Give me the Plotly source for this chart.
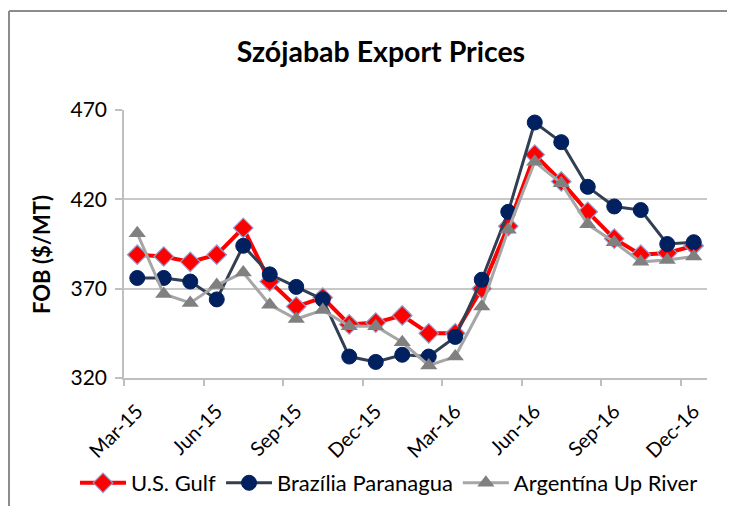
import plotly.graph_objects as go

months = ["Mar-15", "Apr-15", "May-15", "Jun-15", "Jul-15", "Aug-15", "Sep-15", "Oct-15",
          "Nov-15", "Dec-15", "Jan-16", "Feb-16", "Mar-16", "Apr-16", "May-16", "Jun-16",
          "Jul-16", "Aug-16", "Sep-16", "Oct-16", "Nov-16", "Dec-16"]
us_gulf = [389, 388, 385, 389, 404, 374, 360, 365, 350, 351, 355, 345,
           345, 370, 405, 445, 430, 413, 398, 389, 390, 394]
brazil = [376, 376, 374, 364, 394, 378, 371, 364, 332, 329, 333, 332,
          343, 375, 413, 463, 452, 427, 416, 414, 395, 396]
argentina = [401, 367, 362, 372, 379, 361, 353, 358, 349, 349, 340, 327,
             332, 360, 403, 441, 429, 406, 396, 385, 386, 388]
series_names = ["U.S. Gulf", "Brazília Paranagua", "Argentína Up River"]
y_ticks = [320, 370, 420, 470]

FONT = "Lato, 'Open Sans', sans-serif"
OFF = 8                  # page body margin
W, H = 735 - 2 * OFF, 514 - 2 * OFF
L, T = 124 - OFF, 110 - OFF
R = W - (707 - OFF)
B = H - (378 - OFF)
PW, PH = W - L - R, H - T - B

xs = list(range(len(months)))
label_idx = xs[::3]


def px_x(px):
    return (px - OFF - L) / PW


def px_y(py):
    return (H - B - (py - OFF)) / PH


fig = go.Figure()
fig.add_trace(go.Scatter(
    x=xs, y=us_gulf, name=series_names[0], mode="lines+markers",
    line=dict(color="#FF0000", width=4),
    marker=dict(symbol="diamond", size=15, color="#FF0000",
                line=dict(color="#8E9FD0", width=1.2))))
fig.add_trace(go.Scatter(
    x=xs, y=brazil, name=series_names[1], mode="lines+markers",
    line=dict(color="#323E52", width=3),
    marker=dict(symbol="circle", size=15, color="#002060",
                line=dict(color="#002060", width=1))))
fig.add_trace(go.Scatter(
    x=xs, y=argentina, name=series_names[2], mode="lines+markers",
    line=dict(color="#A6A6A6", width=3),
    marker=dict(symbol="triangle-up", size=15, color="#808080",
                line=dict(color="#808080", width=0))))

fig.update_layout(
    width=W, height=H,
    margin=dict(l=L, r=R, t=T, b=B, autoexpand=False),
    paper_bgcolor="white", plot_bgcolor="white",
    font=dict(family=FONT, size=20, color="black"),
    title=dict(text="<b>Szójabab Export Prices</b>", font=dict(family=FONT, size=28.5, color="black"),
               xref="container", x=(381 - OFF) / W, xanchor="center",
               yref="container", y=1 - (52 - OFF) / H, yanchor="middle"),
    showlegend=True,
    legend=dict(orientation="h", xref="paper", x=px_x(75), xanchor="left",
                yref="paper", y=px_y(483), yanchor="middle",
                font=dict(family=FONT, size=22, color="black"),
                itemwidth=46, tracegroupgap=0, borderwidth=0,
                bgcolor="rgba(0,0,0,0)"),
    xaxis=dict(range=[-0.5, len(months) - 0.5], tickmode="array",
               tickvals=label_idx, ticktext=[months[i] for i in label_idx],
               tickangle=-45, ticks="", showgrid=False, zeroline=False,
               ticklabelstandoff=12,
               showline=True, linecolor="#BFBFBF", linewidth=1.5,
               tickfont=dict(family=FONT, size=20, color="black"),
               minor=dict(tickmode="linear", tick0=-0.5, dtick=3, ticks="outside",
                          ticklen=6, tickcolor="#BFBFBF", tickwidth=1.5, showgrid=False)),
    yaxis=dict(range=[y_ticks[0], y_ticks[-1]], tickmode="array", tickvals=y_ticks,
               ticks="outside", ticklen=7, tickcolor="#BFBFBF", tickwidth=1.5,
               ticklabelstandoff=4,
               showline=True, linecolor="#BFBFBF", linewidth=1.5,
               showgrid=True, gridcolor="#C8C8C8", gridwidth=1.5, zeroline=False,
               tickfont=dict(family=FONT, size=21, color="black")),
    annotations=[dict(text="<b>FOB ($/MT)</b>", textangle=-90, showarrow=False,
                      xref="paper", yref="paper", x=px_x(41), y=px_y(255),
                      xanchor="center", yanchor="middle",
                      font=dict(family=FONT, size=22, color="black"))],
    shapes=[
        dict(type="line", xref="paper", yref="paper",
             x0=px_x(9), x1=px_x(9), y0=px_y(11), y1=px_y(530),
             line=dict(color="#8C8C8C", width=2)),
        dict(type="line", xref="paper", yref="paper",
             x0=px_x(9), x1=px_x(750), y0=px_y(11), y1=px_y(11),
             line=dict(color="#8C8C8C", width=2)),
    ],
)

fig.write_html("out.html")
